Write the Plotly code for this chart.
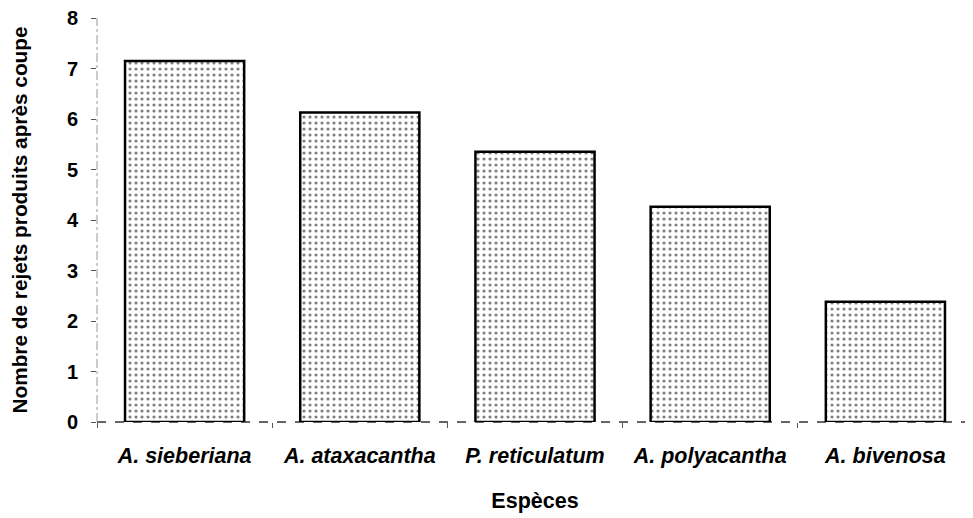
import plotly.graph_objects as go

especes = ["A. sieberiana", "A. ataxacantha", "P. reticulatum", "A. polyacantha", "A. bivenosa"]
rejets = [7.15, 6.13, 5.35, 4.26, 2.38]
y_ticks = [0, 1, 2, 3, 4, 5, 6, 7, 8]

fig = go.Figure()
fig.add_trace(go.Bar(
    x=especes, y=rejets, width=0.68,
    marker=dict(color="white",
                line=dict(color="black", width=2.5),
                pattern=dict(shape=".", fgcolor="black", bgcolor="white", size=6, solidity=0.22)),
))

font_family = "Liberation Sans, Arial, sans-serif"
fig.update_layout(
    width=965, height=510,
    margin=dict(l=89, r=0, t=10, b=96),
    paper_bgcolor="white", plot_bgcolor="white",
    showlegend=False,
    font=dict(family=font_family, color="black"),
    xaxis=dict(
        showline=False, showgrid=False, zeroline=False, automargin=False,
        tickson="boundaries", ticks="outside", ticklen=5, tickcolor="#555",
        ticklabelstandoff=18,
        tickfont=dict(size=21.5, style="italic", weight="bold"),
        title=dict(text="Espèces", font=dict(size=21.5, weight="bold"), standoff=26),
        range=[-0.5, 4.5],
    ),
    yaxis=dict(
        range=[0, 8], tickvals=y_ticks, showline=False, showgrid=False, zeroline=False,
        automargin=False, ticklabeloverflow="allow",
        ticks="outside", ticklen=5, tickcolor="#555", ticklabelstandoff=9,
        tickfont=dict(size=20, weight="bold"),
        title=dict(text="Nombre de rejets produits après coupe", font=dict(size=20.8, weight="bold"), standoff=41),
    ),
    shapes=[
        dict(type="line", xref="paper", yref="paper", x0=0, x1=1, y0=0, y1=0,
             line=dict(color="#333", width=1.5, dash="dash"), layer="below"),
        dict(type="line", xref="paper", yref="paper", x0=0, x1=0, y0=0, y1=1,
             line=dict(color="#999", width=1, dash="dashdot"), layer="below"),
    ],
)
fig.write_html("out.html")
